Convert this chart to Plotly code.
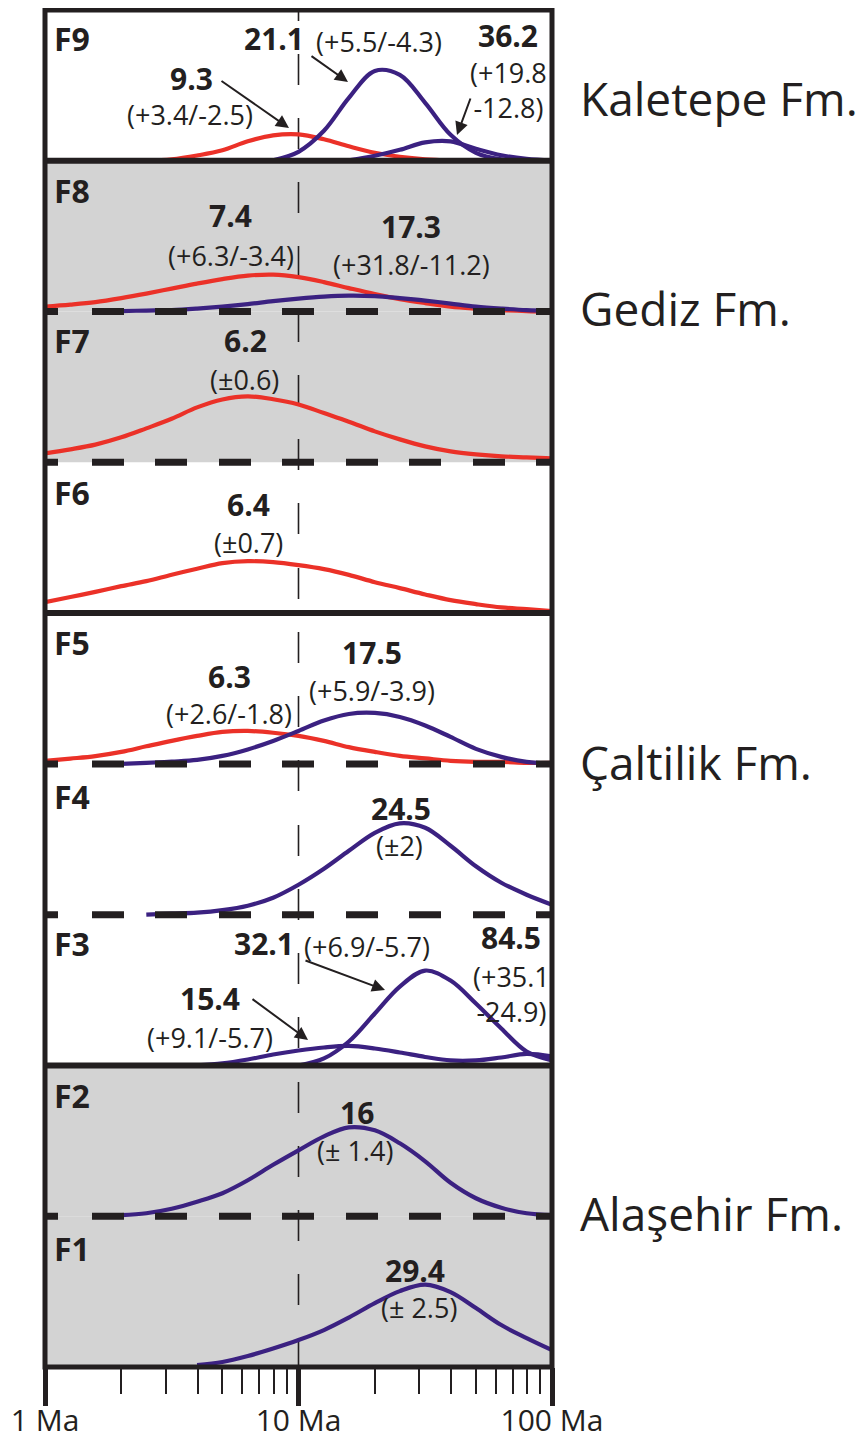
import plotly.graph_objects as go

# ---------------- data ----------------
panel_names = ["F1", "F2", "F3", "F4", "F5", "F6", "F7", "F8", "F9"]
grey_panels = ["F1", "F2", "F7", "F8"]
solid_separators_below = ["F3", "F6", "F9"]      # thick solid line under these panels
dashed_separators_below = ["F2", "F4", "F5", "F7", "F8"]
formation_names = ["Kaletepe Fm.", "Gediz Fm.", "Çaltilik Fm.", "Alaşehir Fm."]

sample_ages = [1, 1.26, 1.58, 2, 2.51, 3.16, 3.98, 5.01, 6.31, 7.94, 10,
               12.6, 15.8, 20, 25.1, 31.6, 39.8, 50.1, 63.1, 79.4, 100]

# relative heights of each curve (one panel = 151), starting at the given age
f9_red_from, f9_red_h = 2.51, [0, 1.5, 5.3, 10.5, 19.5, 25.5, 26.5, 21.5, 14.5, 8, 4, 1.5, 0.3]
f9_pur1_from, f9_pur1_h = 7.94, [0.5, 9, 30, 63, 90, 86, 58, 26, 8, 1.5, 0]
f9_pur2_from, f9_pur2_h = 15.8, [0.5, 5, 11, 18.5, 19.5, 12, 5.5, 2, 0.5]

f8_red_from, f8_red_h = 1, [5, 7, 9.5, 13.5, 18, 23, 28, 32.5, 36, 37, 34.5, 29.5, 23.5,
                            17.5, 12.5, 8.5, 5, 3, 1.5, 0.5, 0]
f8_pur_from, f8_pur_h = 1.58, [0, 0.5, 1, 1.5, 3, 5, 7.5, 10.5, 13, 15, 16, 15.5, 13.5,
                               11, 8, 5, 3, 1.5, 1]

f7_red_from, f7_red_h = 1, [9, 13, 17.7, 25, 34, 43.6, 55, 63, 66, 63.2, 58, 49.3, 40.7,
                            31, 23, 16, 11, 8, 6, 5, 4]

f6_red_from, f6_red_h = 1, [11, 16.1, 21.3, 27, 32, 38.5, 44.5, 50, 52, 51, 48, 44, 38.3,
                            31, 25, 18.7, 13, 9, 5.7, 4, 2]

f5_red_from, f5_red_h = 1, [3, 5.3, 7.8, 12, 17.6, 23.1, 28, 32, 33, 31.2, 28, 23, 16.8,
                            12, 8, 5.5, 3, 2, 2, 1, 1]
f5_pur_from, f5_pur_h = 2, [0, 1, 2.3, 4, 8, 14.5, 23, 33, 43.5, 50, 51, 47, 38.5, 27,
                            15, 7, 2, 0]

f4_pur_from, f4_pur_h = 2.51, [0, 1, 2, 4.5, 9, 17, 30, 46, 64, 82, 91.5, 87, 69, 48.5,
                               32, 20, 10]

f3_pur_a_from, f3_pur_a_h = 3.98, [0, 2, 6, 11, 15, 18, 19.5, 17, 13, 8.5, 5, 5, 8, 11.5, 9]
f3_pur_b_from, f3_pur_b_h = 10, [0, 7, 24, 52, 79, 95, 85, 62, 37, 14, 5]

f2_pur_from, f2_pur_h = 2, [1, 3, 7.5, 14.5, 23, 36, 51.5, 66, 80, 89, 86, 73, 55, 33.5,
                            18, 8.5, 3, 1]

f1_pur_from, f1_pur_h = 3.98, [2, 5, 11, 18.5, 27, 37, 49.5, 64, 76, 82.5, 75, 59, 42, 29, 17]

curves = [
    ("F9", "red", f9_red_from, f9_red_h), ("F9", "purple", f9_pur1_from, f9_pur1_h),
    ("F9", "purple", f9_pur2_from, f9_pur2_h),
    ("F8", "red", f8_red_from, f8_red_h), ("F8", "purple", f8_pur_from, f8_pur_h),
    ("F7", "red", f7_red_from, f7_red_h),
    ("F6", "red", f6_red_from, f6_red_h),
    ("F5", "red", f5_red_from, f5_red_h), ("F5", "purple", f5_pur_from, f5_pur_h),
    ("F4", "purple", f4_pur_from, f4_pur_h),
    ("F3", "purple", f3_pur_a_from, f3_pur_a_h), ("F3", "purple", f3_pur_b_from, f3_pur_b_h),
    ("F2", "purple", f2_pur_from, f2_pur_h),
    ("F1", "purple", f1_pur_from, f1_pur_h),
]
PANEL_UNITS = 151.0

reference_age = 10
major_ticks = [1, 10, 100]
major_tick_labels = ["1 Ma", "10 Ma", "100 Ma"]
minor_ticks = [2, 3, 4, 5, 6, 7, 8, 9, 20, 30, 40, 50, 60, 70, 80, 90]

# ---------------- style ----------------
COLORS = {"red": "#eb3128", "purple": "#3b2181"}
INK = "#231f20"
GREY = "#d3d3d3"
FONT = "Open Sans"

OFF = 8                      # page body margin
W, H = 867 - OFF, 1444 - 2 * OFF
L, R, T, B = 45, 552, 10, 1367   # plot-area edges in page pixels


def X(px):
    return (px - L) / (R - L) * 2.0


def Y(py):
    return (B - py) / (B - T) * 9.0


def pidx(name):
    return panel_names.index(name)


fig = go.Figure()

vdash = "11px,33px," + ",".join(["31px,33px,31px,33px,31px,33px,31px,34px"] * 6)
fig.add_trace(go.Scatter(x=[reference_age, reference_age], y=[9, 0], mode="lines",
                         line=dict(color=INK, width=1.6, dash=vdash),
                         hoverinfo="skip", showlegend=False))

for pan, col, first_age, hs in curves:
    base = pidx(pan)
    k0 = sample_ages.index(first_age)
    ages = sample_ages[k0:k0 + len(hs)]
    fig.add_trace(go.Scatter(x=ages, y=[base + h / PANEL_UNITS for h in hs], mode="lines",
                             line=dict(color=COLORS[col], width=4.2, shape="spline",
                                       smoothing=1.0, simplify=False),
                             hoverinfo="skip", showlegend=False, xaxis="x", yaxis="y"))

# invisible traces to activate the tick-only axes
for ax in ("x2", "x3"):
    fig.add_trace(go.Scatter(x=[1, 100], y=[0, 0], mode="lines", line=dict(width=0),
                             opacity=0, hoverinfo="skip", showlegend=False, xaxis=ax, yaxis="y"))

shapes = []
for p in grey_panels:
    i = pidx(p)
    shapes.append(dict(type="rect", xref="paper", yref="y", x0=0, x1=1, y0=i, y1=i + 1,
                       fillcolor=GREY, line=dict(width=0), layer="below"))
hdash = "13px,34px," + ",".join(["32px,31px,32px,32px"] * 5)
for p in dashed_separators_below:
    i = pidx(p)
    shapes.append(dict(type="line", xref="paper", yref="y", x0=0, x1=1, y0=i, y1=i,
                       line=dict(color=INK, width=7, dash=hdash), layer="above"))
for p in solid_separators_below:
    i = pidx(p)
    shapes.append(dict(type="line", xref="paper", yref="y", x0=0, x1=1, y0=i, y1=i,
                       line=dict(color=INK, width=6), layer="above"))
shapes.append(dict(type="rect", xref="paper", yref="paper", x0=0, x1=1, y0=0, y1=1,
                   line=dict(color=INK, width=5), fillcolor="rgba(0,0,0,0)", layer="above"))

ann = []


def txt(text, xp, yp, size, bold=False, xanchor="center"):
    ann.append(dict(text=("<b>%s</b>" % text) if bold else text, x=X(xp), y=Y(yp),
                    xref="x", yref="y", showarrow=False, xanchor=xanchor, yanchor="middle",
                    font=dict(family=FONT, size=size, color=INK)))


def arrow(x_tail, y_tail, x_head, y_head):
    ann.append(dict(text="", x=X(x_head), y=Y(y_head), ax=X(x_tail), ay=Y(y_tail),
                    xref="x", yref="y", axref="x", ayref="y", showarrow=True,
                    arrowhead=2, arrowsize=1.3, arrowwidth=2, arrowcolor=INK))


BIG, SMALL, PAN = 30, 27, 32
panel_label_y = {"F9": 38, "F8": 190, "F7": 340, "F6": 492, "F5": 642,
                 "F4": 796, "F3": 943, "F2": 1095, "F1": 1248}
for p in panel_names:
    txt(p, 52, panel_label_y[p], PAN, bold=True, xanchor="left")

# F9
txt("9.3", 191, 78, BIG, True)
txt("(+3.4/-2.5)", 190, 114, SMALL)
txt("21.1", 274, 38, BIG, True)
txt("(+5.5/-4.3)", 379, 41, SMALL)
txt("36.2", 508, 35, BIG, True)
txt("(+19.8<br>-12.8)", 508, 90, SMALL)
arrow(220, 80, 289, 128)
arrow(310, 55, 348, 82)
arrow(471, 97, 457, 135)
# F8
txt("7.4", 230, 215, BIG, True)
txt("(+6.3/-3.4)", 231, 255, SMALL)
txt("17.3", 411, 226, BIG, True)
txt("(+31.8/-11.2)", 411, 264, SMALL)
# F7
txt("6.2", 245, 340, BIG, True)
txt("(±0.6)", 244, 379, SMALL)
# F6
txt("6.4", 248, 504, BIG, True)
txt("(±0.7)", 248, 542, SMALL)
# F5
txt("6.3", 229, 676, BIG, True)
txt("(+2.6/-1.8)", 229, 713, SMALL)
txt("17.5", 372, 652, BIG, True)
txt("(+5.9/-3.9)", 372, 690, SMALL)
# F4
txt("24.5", 401, 808, BIG, True)
txt("(±2)", 399, 845, SMALL)
# F3
txt("32.1", 264, 943, BIG, True)
txt("(+6.9/-5.7)", 367, 946, SMALL)
txt("84.5", 511, 937, BIG, True)
txt("(+35.1<br>-24.9)", 511, 994, SMALL)
txt("15.4", 210, 998, BIG, True)
txt("(+9.1/-5.7)", 210, 1037, SMALL)
arrow(304, 960, 385, 990)
arrow(251, 998, 308, 1040)
# F2
txt("16", 357, 1112, BIG, True)
txt("(± 1.4)", 355, 1150, SMALL)
# F1
txt("29.4", 415, 1270, BIG, True)
txt("(± 2.5)", 419, 1307, SMALL)

formation_y = [98, 308, 762, 1213]
for name, yp in zip(formation_names, formation_y):
    ann.append(dict(text=name, x=(578 - L) / (R - L), y=Y(yp), xref="paper", yref="y",
                    showarrow=False, xanchor="left", yanchor="middle",
                    font=dict(family=FONT, size=46, color=INK)))

common = dict(type="log", range=[0, 2], showgrid=False, zeroline=False, showline=False,
              automargin=False)
fig.update_layout(
    width=W, height=H,
    margin=dict(l=L - OFF, r=(867 - OFF) - (R - OFF), t=T - OFF, b=H - (B - OFF), pad=0),
    paper_bgcolor="white", plot_bgcolor="white",
    showlegend=False,
    shapes=shapes, annotations=ann,
    xaxis=dict(**common, tickvals=major_ticks, ticktext=major_tick_labels,
               ticks="outside", ticklen=27, tickwidth=1, tickcolor="rgba(0,0,0,0)",
               tickfont=dict(family=FONT, size=30, color=INK)),
    xaxis2=dict(**common, overlaying="x", anchor="y", side="bottom",
                tickvals=minor_ticks, ticks="outside", ticklen=26, tickwidth=2.2,
                tickcolor=INK, showticklabels=False),
    xaxis3=dict(**common, overlaying="x", anchor="y", side="bottom",
                tickvals=major_ticks, ticks="outside", ticklen=38, tickwidth=5,
                tickcolor=INK, showticklabels=False),
    yaxis=dict(range=[0, 9], visible=False, fixedrange=True),
)

fig.write_html("out.html")
